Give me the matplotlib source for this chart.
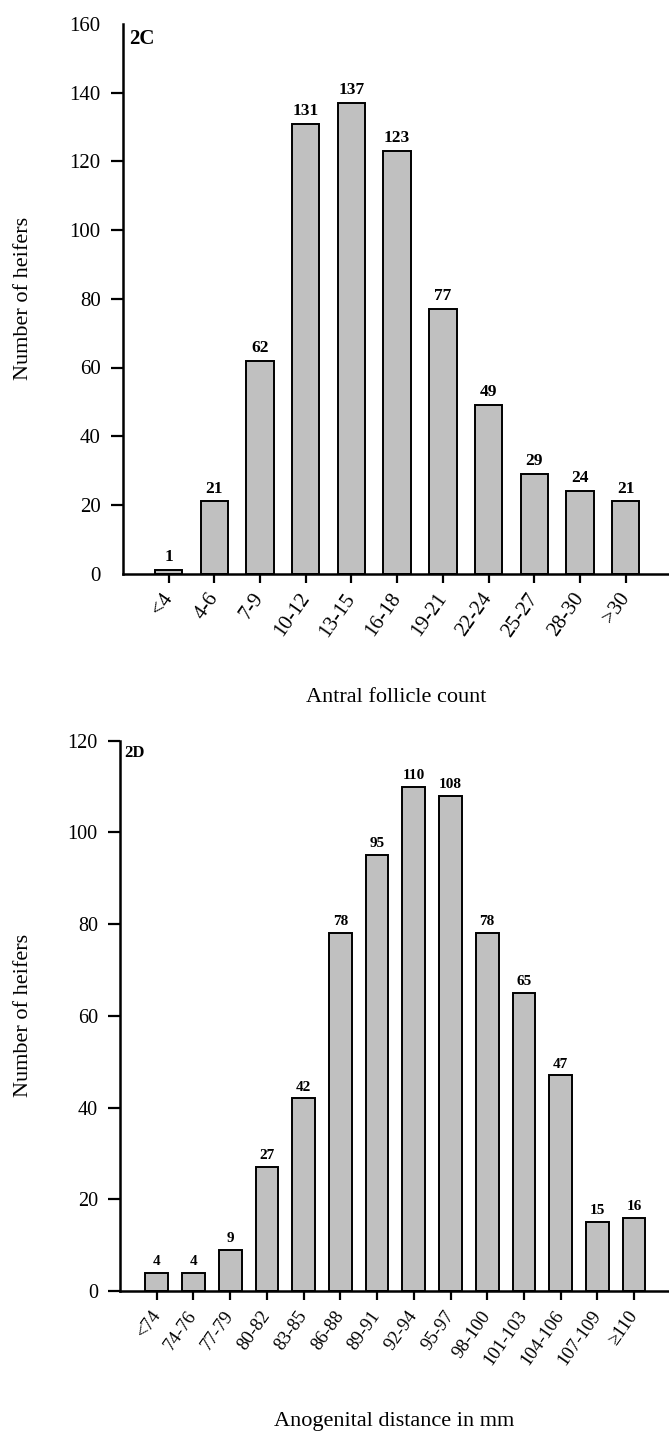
import matplotlib
matplotlib.use("Agg")
import matplotlib.pyplot as plt

plt.rcParams['font.family'] = ['Liberation Serif', 'DejaVu Serif']

# Data
afc_categories = ['<4', '4-6', '7-9', '10-12', '13-15', '16-18', '19-21', '22-24', '25-27', '28-30', '>30']
afc_counts = [1, 21, 62, 131, 137, 123, 77, 49, 29, 24, 21]

agd_categories = ['<74', '74-76', '77-79', '80-82', '83-85', '86-88', '89-91', '92-94', '95-97',
                  '98-100', '101-103', '104-106', '107-109', '≥110']
agd_counts = [4, 4, 9, 27, 42, 78, 95, 110, 108, 78, 65, 47, 15, 16]

W, H = 669, 1431
fig = plt.figure(figsize=(W / 100, H / 100), dpi=100)

bar_color = '#c0c0c0'


def setup(ax, cats, vals, ymax, ystep, xlim_right, xtick_fs, ytick_fs, label_fs, bar_w,
          panel, panel_fs, panel_xy, xlabel, xlabel_y, ylabel_x):
    x = list(range(len(cats)))
    ax.bar(x, vals, width=bar_w, color=bar_color, edgecolor='black', linewidth=1.4, zorder=2)
    for xi, v in zip(x, vals):
        ax.annotate(str(v), (xi, v), xytext=(0, 3.5), textcoords='offset points',
                    ha='center', va='bottom', fontsize=label_fs, fontweight='bold')
    ax.set_xlim(-1, xlim_right)
    ax.set_ylim(0, ymax)
    ax.set_yticks(range(0, ymax + 1, ystep))
    ax.set_xticks(x)
    ax.set_xticklabels(cats, rotation=55, ha='right', va='center', rotation_mode='anchor',
                       fontsize=xtick_fs)
    ax.tick_params(axis='x', direction='out', length=6.5, width=1.6, pad=9)
    ax.tick_params(axis='y', direction='out', length=9, width=1.6, pad=7, labelsize=ytick_fs)
    for s in ['top', 'right']:
        ax.spines[s].set_visible(False)
    for s in ['left', 'bottom']:
        ax.spines[s].set_linewidth(1.8)
    ax.set_xlabel(xlabel, fontsize=16)
    ax.xaxis.set_label_coords(0.5, xlabel_y)
    ax.set_ylabel('Number of heifers', fontsize=16)
    ax.yaxis.set_label_coords(ylabel_x, 0.5)
    ax.text(panel_xy[0], panel_xy[1], panel, transform=ax.transAxes, fontsize=panel_fs,
            fontweight='bold', ha='left', va='top')


# Top panel (2C)
ax1 = fig.add_axes([123 / W, 1 - 573.6 / H, 1 - 123 / W, (573.6 - 24) / H])
setup(ax1, afc_categories, afc_counts, 160, 20, 10.95, 15, 15, 12.5, 0.6,
      '2C', 15, (0.012, 0.99), 'Antral follicle count', -0.208, -0.165)
ticks = ax1.yaxis.get_major_ticks()
ticks[0].tick1line.set_visible(False)
ticks[-1].tick1line.set_visible(False)

# Bottom panel (2D)
ax2 = fig.add_axes([120 / W, 1 - 1291 / H, 1 - 120 / W, (1291 - 740.7) / H])
setup(ax2, agd_categories, agd_counts, 120, 20, 13.95, 13.5, 14.5, 11, 0.62,
      '2D', 12, (0.008, 0.993), 'Anogenital distance in mm', -0.22, -0.158)

fig.savefig('out.png', dpi=100, facecolor='white')
